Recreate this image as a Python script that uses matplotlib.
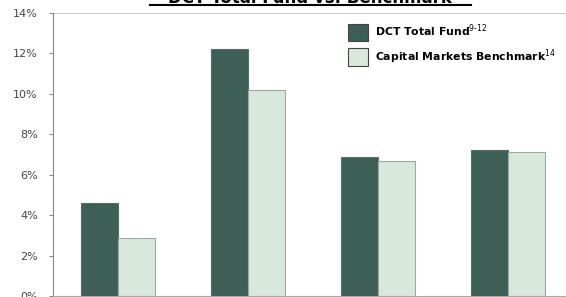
import matplotlib
matplotlib.use("Agg")
import matplotlib.pyplot as plt
import numpy as np
from matplotlib.lines import Line2D

# data (percent)
periods = ["Period 1", "Period 2", "Period 3", "Period 4"]
fund = [4.6, 12.2, 6.9, 7.2]
benchmark = [2.85, 10.2, 6.7, 7.1]
yticks = [0, 2, 4, 6, 8, 10, 12, 14]

dark = "#3d5f55"
light = "#d9e8dc"

fig = plt.figure(figsize=(5.66, 2.97), dpi=100)
# axes runs a bit past the right edge, like the cropped original
ax = fig.add_axes([53/566, 1/297, 520/566, 283/297])

x = np.arange(len(periods))
w = 0.288
ax.bar(x - w/2, fund, w, color=dark, edgecolor="#5a6e68", linewidth=0.8,
       label=r"DCT Total Fund$^{9\text{-}12}$")
ax.bar(x + w/2, benchmark, w, color=light, edgecolor="#a0a8a3", linewidth=0.8,
       label=r"Capital Markets Benchmark$^{14}$")

ax.set_xlim(-0.5, 3.5)
ax.set_ylim(0, 14)
ax.set_yticks(yticks)
ax.set_yticklabels([f"{t}%" for t in yticks], fontsize=8, color="#444444")
ax.set_xticks([])
ax.tick_params(axis="y", length=3, color="#888888", pad=8)
ax.axhline(14, color="#cccccc", lw=1.5)
for s in ["top", "right"]:
    ax.spines[s].set_visible(False)
ax.spines["left"].set_color("#888888")
ax.spines["bottom"].set_color("#aaaaaa")

leg = ax.legend(loc="upper left", bbox_to_anchor=(338/566, 1 - 13/297),
                bbox_transform=fig.transFigure, frameon=False,
                handlelength=1.85, handleheight=2.1, handletextpad=0.7,
                labelspacing=0.55, prop={"size": 7.8, "weight": "bold"})
for h in leg.legend_handles:
    h.set_edgecolor("#444444")

# title, cropped at the top of the picture
fig.text(310/566, 1 - 3/297, "DCT Total Fund vs. Benchmark", ha="center",
         va="baseline", fontsize=12, fontweight="bold")
fig.add_artist(Line2D([150/566, 471/566], [1 - 5/297, 1 - 5/297],
                      transform=fig.transFigure, color="black", lw=1.5))

fig.savefig("out.png", dpi=100)
